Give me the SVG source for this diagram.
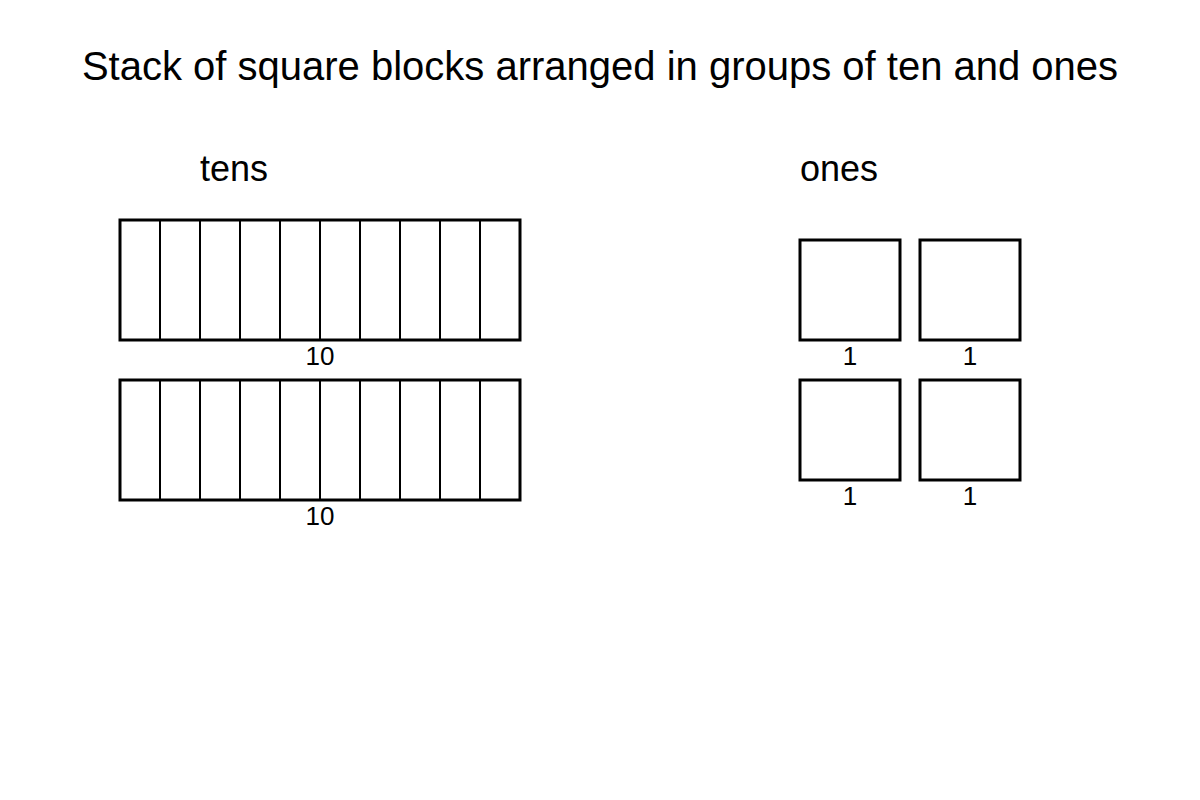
<svg xmlns="http://www.w3.org/2000/svg" width="1200" height="800" viewBox="0 0 1200 800">
<style>
text{font-family:"Liberation Sans",Arial,sans-serif;fill:#000}
.title{font-size:40px}
.head{font-size:36px}
.lbl{font-size:26px;text-anchor:middle}
.blk{fill:#fff;stroke:#000;stroke-width:3}
.div{stroke:#000;stroke-width:2}
</style>
<rect width="1200" height="800" fill="#fff"/>
<text class="title" x="600" y="80" text-anchor="middle">Stack of square blocks arranged in groups of ten and ones</text>
<text class="head" x="200" y="181">tens</text>
<text class="head" x="800" y="181">ones</text>
<defs>
<g id="rod">
<rect class="blk" x="0" y="0" width="400" height="120"/>
<path class="div" d="M40 0V120M80 0V120M120 0V120M160 0V120M200 0V120M240 0V120M280 0V120M320 0V120M360 0V120"/>
</g>
</defs>
<g id="ten1">
<use href="#rod" x="120" y="220"/>
<text class="lbl" x="320" y="365">10</text>
</g>
<g id="ten2">
<use href="#rod" x="120" y="380"/>
<text class="lbl" x="320" y="525">10</text>
</g>
<g id="one1">
<rect class="blk" x="800" y="240" width="100" height="100"/>
<text class="lbl" x="850" y="365">1</text>
</g>
<g id="one2">
<rect class="blk" x="920" y="240" width="100" height="100"/>
<text class="lbl" x="970" y="365">1</text>
</g>
<g id="one3">
<rect class="blk" x="800" y="380" width="100" height="100"/>
<text class="lbl" x="850" y="505">1</text>
</g>
<g id="one4">
<rect class="blk" x="920" y="380" width="100" height="100"/>
<text class="lbl" x="970" y="505">1</text>
</g>
<g id="connectors"/>
</svg>
